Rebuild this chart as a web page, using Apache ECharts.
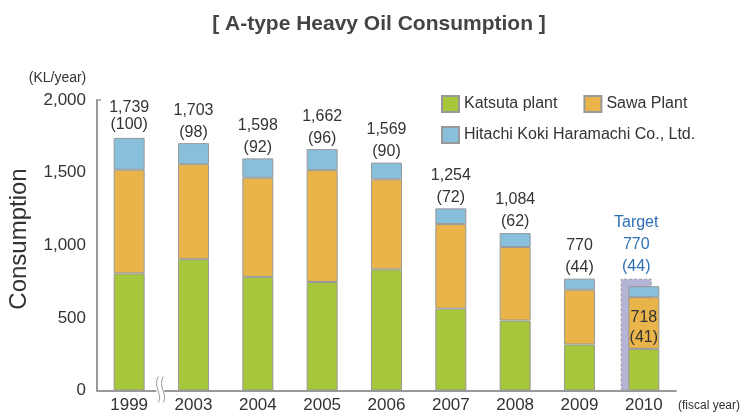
<!DOCTYPE html>
<html>
<head>
<meta charset="utf-8">
<script src="https://cdn.jsdelivr.net/npm/echarts@6/dist/echarts.min.js"></script>
<style>html,body{margin:0;padding:0;background:#fff;}#c{width:749px;height:416px;}</style>
</head>
<body>
<div id="c"></div>
<script>
// ---- data ----
var categories = ['1999', '2003', '2004', '2005', '2006', '2007', '2008', '2009', '2010'];
var katsuta = [806, 904, 782, 747, 834, 564, 482, 317, 287];
var sawa = [714, 654, 683, 770, 620, 582, 506, 377, 355];
var haramachi = [219, 145, 133, 145, 115, 108, 96, 76, 76];
var totals = [1739, 1703, 1598, 1662, 1569, 1254, 1084, 770, 718];
var indexValues = [100, 98, 92, 96, 90, 72, 62, 44, 41];
var targetValues = ['-', '-', '-', '-', '-', '-', '-', '-', 770];
var targetIndex = [null, null, null, null, null, null, null, null, 44];
var yTicks = [0, 500, 1000, 1500, 2000];

var FONT = '"Liberation Sans", Arial, sans-serif';
var TXT = '#333';
var lastIdx = categories.length - 1;

function fmt(v) { return v.toLocaleString('en-US'); }

var chart = echarts.init(document.getElementById('c'));

var gridTop = 100, gridBottom = 25.5;

var haraData = haramachi.map(function (v, i) {
  if (i === 0) return { value: v, label: { lineHeight: 17, distance: 5 } };
  return v;
});
var sawaData = sawa.map(function (v, i) {
  if (i === lastIdx) {
    return { value: v, label: { show: true, position: 'insideBottom', distance: 1, lineHeight: 20,
      formatter: fmt(totals[i]) + '\n(' + indexValues[i] + ')' } };
  }
  return v;
});

var barBase = {
  type: 'bar', stack: 'total', barWidth: 31, z: 3,
  xAxisIndex: 0, yAxisIndex: 0
};

var option = {
  animation: false,
  textStyle: { fontFamily: FONT },
  title: {
    text: '[ A-type Heavy Oil Consumption ]',
    left: 374, top: 9, textAlign: 'center',
    textStyle: { fontFamily: FONT, fontSize: 21, fontWeight: 'bold', color: '#444' }
  },
  legend: [
    { data: ['Katsuta plant', 'Sawa Plant'], left: 436, top: 90, itemWidth: 17, itemHeight: 16, itemGap: 26,
      icon: 'rect', selectedMode: false,
      textStyle: { fontSize: 16, color: TXT, fontFamily: FONT } },
    { data: ['Hitachi Koki Haramachi Co., Ltd.'], left: 436, top: 121, itemWidth: 17, itemHeight: 16,
      icon: 'rect', selectedMode: false,
      textStyle: { fontSize: 16, color: TXT, fontFamily: FONT } }
  ],
  grid: [
    { left: 97, right: 73, top: gridTop, bottom: gridBottom, containLabel: false },
    { left: 89.4, right: 80.6, top: gridTop, bottom: gridBottom, containLabel: false }
  ],
  xAxis: [
    { type: 'category', data: categories, gridIndex: 0,
      axisLine: { lineStyle: { color: '#999', width: 2 } }, axisTick: { show: false },
      axisLabel: { fontSize: 17, color: TXT, margin: 6, fontFamily: FONT } },
    { type: 'category', data: categories, gridIndex: 1, show: false }
  ],
  yAxis: [
    { type: 'value', min: yTicks[0], max: yTicks[yTicks.length - 1], interval: 500, gridIndex: 0,
      axisLine: { show: true, lineStyle: { color: '#999', width: 2 } }, axisTick: { show: false },
      splitLine: { show: false },
      axisLabel: { fontSize: 17, color: TXT, margin: 11, fontFamily: FONT, formatter: function (v) { return fmt(v); } } },
    { type: 'value', min: yTicks[0], max: yTicks[yTicks.length - 1], interval: 500, gridIndex: 1, show: false }
  ],
  series: [
    { name: 'Target', type: 'bar', xAxisIndex: 1, yAxisIndex: 1, barWidth: 31, z: 1,
      data: targetValues,
      itemStyle: { color: '#b4b4d4', borderColor: '#9a9aa8', borderWidth: 1, borderType: [3, 2] },
      label: { show: true, position: 'top', distance: 1, lineHeight: 22, fontSize: 16, color: '#2f6fb6', fontFamily: FONT,
        formatter: function (p) { return 'Target\n' + fmt(p.value) + '\n(' + targetIndex[p.dataIndex] + ')'; } } },
    Object.assign({}, barBase, { name: 'Katsuta plant', data: katsuta,
      itemStyle: { color: '#a6c63c', borderColor: '#999', borderWidth: 1 } }),
    Object.assign({}, barBase, { name: 'Sawa Plant', data: sawaData,
      itemStyle: { color: '#e9b449', borderColor: '#999', borderWidth: 1 },
      label: { show: false, fontSize: 16, color: TXT, fontFamily: FONT } }),
    Object.assign({}, barBase, { name: 'Hitachi Koki Haramachi Co., Ltd.', data: haraData,
      itemStyle: { color: '#88c0dc', borderColor: '#999', borderWidth: 1 },
      label: { show: true, position: 'top', distance: 0, lineHeight: 22, fontSize: 16, color: TXT, fontFamily: FONT,
        formatter: function (p) {
          if (p.dataIndex === lastIdx) return '';
          return fmt(totals[p.dataIndex]) + '\n(' + indexValues[p.dataIndex] + ')';
        } } })
  ]
};
chart.setOption(option);

// decorations: axis unit texts, rotated axis name, break mark
var p0 = chart.convertToPixel({ xAxisIndex: 0 }, categories[0]);
var p1 = chart.convertToPixel({ xAxisIndex: 0 }, categories[1]);
var yZero = chart.convertToPixel({ yAxisIndex: 0 }, 0);
var yTop = chart.convertToPixel({ yAxisIndex: 0 }, yTicks[yTicks.length - 1]);
var bx = (p0 + p1) / 2 - 2;
chart.setOption({
  graphic: [
    { type: 'text', x: 57.5, y: 78, style: { text: '(KL/year)', fontSize: 14, fill: TXT, fontFamily: FONT, textAlign: 'center', textVerticalAlign: 'middle' } },
    { type: 'text', x: 678, y: yZero + 15, style: { text: '(fiscal year)', fontSize: 12, fill: TXT, fontFamily: FONT, textAlign: 'left', textVerticalAlign: 'middle' } },
    { type: 'text', x: 19, y: 239, rotation: Math.PI / 2, style: { text: 'Consumption', fontSize: 24, fill: TXT, fontFamily: FONT, textAlign: 'center', textVerticalAlign: 'middle' } },
    { type: 'line', shape: { x1: 97, y1: yTop, x2: 101, y2: yTop }, style: { stroke: '#999', lineWidth: 1.5 } },
    { type: 'rect', shape: { x: bx - 3, y: yZero - 2, width: 8, height: 4 }, style: { fill: '#fff' }, z: 100 },
    { type: 'bezierCurve', shape: { x1: bx - 1, y1: yZero - 14, cpx1: bx - 7, cpy1: yZero - 4, cpx2: bx + 4, cpy2: yZero + 4, x2: bx - 1, y2: yZero + 12 }, style: { stroke: '#999', lineWidth: 1, fill: null }, z: 101 },
    { type: 'bezierCurve', shape: { x1: bx + 4, y1: yZero - 14, cpx1: bx - 2, cpy1: yZero - 4, cpx2: bx + 9, cpy2: yZero + 4, x2: bx + 4, y2: yZero + 12 }, style: { stroke: '#999', lineWidth: 1, fill: null }, z: 101 }
  ]
});
</script>
</body>
</html>
